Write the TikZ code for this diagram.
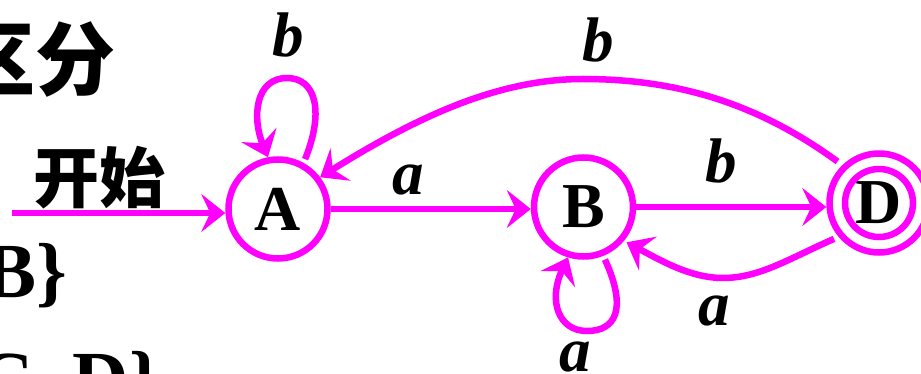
\documentclass[tikz,border=0pt]{standalone}
\usepackage{fontspec}
\setmainfont{Liberation Serif}
\newfontfamily\cjk{Noto Sans CJK SC}
\usetikzlibrary{arrows.meta}
\definecolor{mag}{RGB}{255,0,255}
\newcommand\statefont{\fontsize{64}{70}\selectfont\bfseries}
\newcommand\lblfont{\fontsize{63}{70}\selectfont\bfseries\itshape}
\tikzset{
  state/.style={circle, draw=mag, line width=6.5pt, minimum size=99pt, inner sep=0pt, font=\statefont},
  edge/.style={draw=mag, line width=6.5pt, -{Stealth[length=24pt,width=38pt,inset=9pt]}},
  lbl/.style={font=\lblfont, inner sep=0pt, anchor=base},
  side/.style={font=\fontsize{78}{86}\selectfont\bfseries, inner sep=0pt, anchor=base east},
}
\begin{document}
\begin{tikzpicture}[x=1pt,y=-1pt]
\useasboundingbox (0,0) rectangle (921,374);
% left text fragments
\node[font=\cjk\bfseries\fontsize{80}{88}\selectfont, inner sep=0pt, anchor=east] (t1) at (116,60) {区分};
\node[font=\cjk\bfseries\fontsize{66}{72}\selectfont, inner sep=0pt, anchor=center] (t2) at (100,178) {开始};
\node[side] (t3) at (67,297) {B\}};
\node[side] (t4) at (160,405) {C, D\}};
% states
\node[state] (A) at (278,209) {A};
\node[state] (B) at (583.5,207) {B};
\node[state] (D) at (879,203) {D};
\draw[mag, line width=6.5pt] (D.center) circle (34pt);
% start arrow
\coordinate (s) at (12,213);
\draw[edge] (s) -- (s -| A.west);
% edges
\draw[edge] (A.east) -- (A.east -| B.west);
\draw[edge] (B.east) -- (B.east -| D.west);
\draw[edge, shorten <=4pt] (A.61) .. controls (325,110) and (315,78) .. (287,78) .. controls (255,78) and (252,118) .. (A.101);
\draw[edge, shorten <=4pt] (B.-68) .. controls (628,310) and (615,331) .. (587,331) .. controls (558,331) and (548,300) .. (B.-107);
\draw[edge, shorten <=6pt] (D.134) .. controls (760,105) and (680,79) .. (583,79) .. controls (500,79) and (420,115) .. (A.37);
\draw[edge, shorten <=5pt, shorten >=3pt] (D.220) .. controls (790,258) and (760,278) .. (723,278) .. controls (690,278) and (660,260) .. (B.-40);
% labels
\node[lbl] (l1) at (288,57) {b};
\node[lbl] (l2) at (598,62) {b};
\node[lbl] (l3) at (408,195) {a};
\node[lbl] (l4) at (721,183) {b};
\node[lbl] (l5) at (714,325) {a};
\node[lbl] (l6) at (575,371) {a};
\end{tikzpicture}
\end{document}
